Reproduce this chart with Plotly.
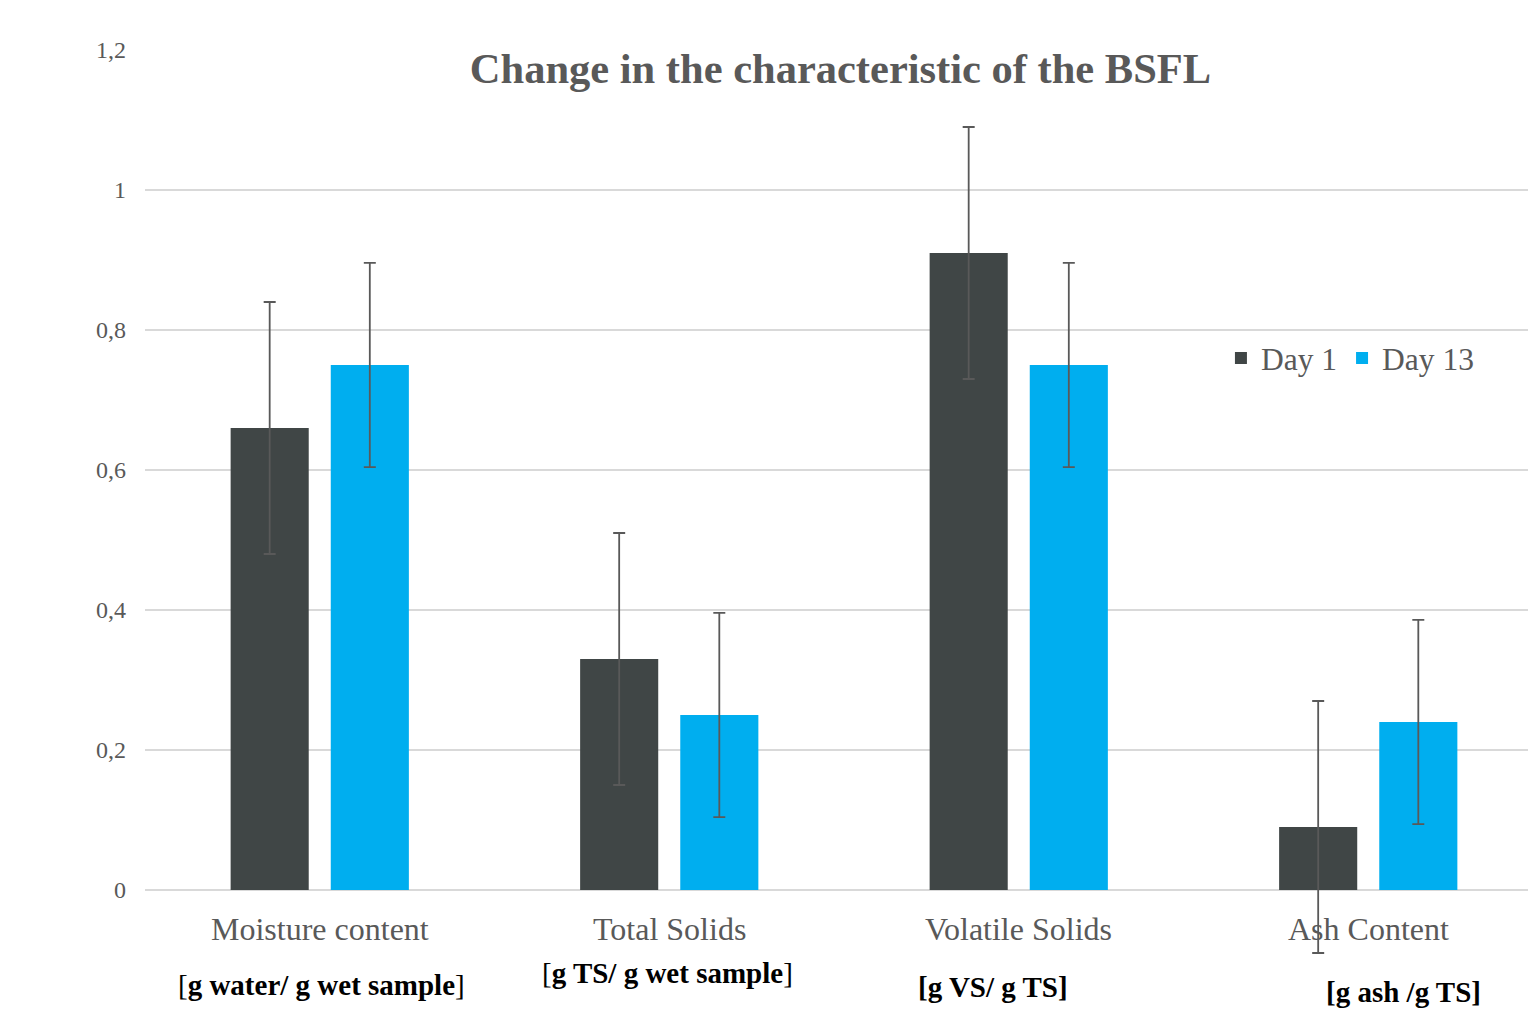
import plotly.graph_objects as go

categories = ["Moisture content", "Total Solids", "Volatile Solids", "Ash Content"]
day1 = [0.66, 0.33, 0.91, 0.09]
day13 = [0.75, 0.25, 0.75, 0.24]
day1_err = [0.18, 0.18, 0.18, 0.18]
day13_err = [0.146, 0.146, 0.146, 0.146]
units = ["[<b>g water/ g wet sample</b>]", "[<b>g TS/ g wet sample</b>]",
         "<b>[g VS/ g TS]</b>", "<b>[g ash /g TS]</b>"]
unit_pos = [(0.1272, 0.0459), (0.3753, 0.0582), (0.6096, 0.0439), (0.9051, 0.0388)]
yticks = [-0.2, 0, 0.2, 0.4, 0.6, 0.8, 1.0, 1.2]
yticklabels = ["-0,2", "0", "0,2", "0,4", "0,6", "0,8", "1", "1,2"]

GRAY = "#595959"
FONT = "Liberation Serif, Times New Roman, serif"

fig = go.Figure()
fig.add_trace(go.Bar(
    x=categories, y=day1, name="Day 1", marker=dict(color="#404646", line=dict(width=0)),
    error_y=dict(type="data", array=day1_err, color="#595959", thickness=1.8, width=6),
))
fig.add_trace(go.Bar(
    x=categories, y=day13, name="Day 13", marker=dict(color="#00AEEF", line=dict(width=0)),
    error_y=dict(type="data", array=day13_err, color="#595959", thickness=1.8, width=6),
))

annotations = []
for c in categories:
    annotations.append(dict(x=c, y=-0.055, xref="x", yref="y", text=c, showarrow=False,
                            font=dict(family=FONT, size=32, color=GRAY), xanchor="center", yanchor="middle"))
for u, (px, py) in zip(units, unit_pos):
    annotations.append(dict(x=px, y=py, xref="paper", yref="paper", text=u, showarrow=False,
                            font=dict(family=FONT, size=29, color="#000000"), xanchor="center", yanchor="middle"))

fig.update_layout(
    width=1528, height=1022,
    margin=dict(l=137, r=0, t=42, b=0, pad=0),
    paper_bgcolor="white", plot_bgcolor="white",
    barmode="group", bargap=0.427, bargroupgap=0.22,
    title=dict(text="<b>Change in the characteristic of the BSFL</b>", x=0.5, xref="paper",
               y=(1022 - 60) / 1022, yanchor="middle",
               font=dict(family=FONT, size=42.5, color=GRAY)),
    xaxis=dict(range=[-0.5, 3.48], showticklabels=False, showgrid=False, zeroline=False,
               showline=False, ticks=""),
    yaxis=dict(range=[-0.2, 1.2], tickvals=yticks, ticktext=yticklabels,
               showgrid=True, gridcolor="#d9d9d9", gridwidth=1.5,
               zeroline=True, zerolinecolor="#d9d9d9", zerolinewidth=1.5,
               showline=False, ticks="", ticklabelstandoff=18,
               tickfont=dict(family=FONT, size=24, color=GRAY)),
    legend=dict(orientation="h", x=0.7735, y=(1030 - 358) / 980, xanchor="left", yanchor="middle",
                font=dict(family=FONT, size=31.5, color=GRAY), bgcolor="rgba(0,0,0,0)",
                itemwidth=30, traceorder="normal"),
    annotations=annotations,
    showlegend=True,
)

fig.write_html("out.html")
